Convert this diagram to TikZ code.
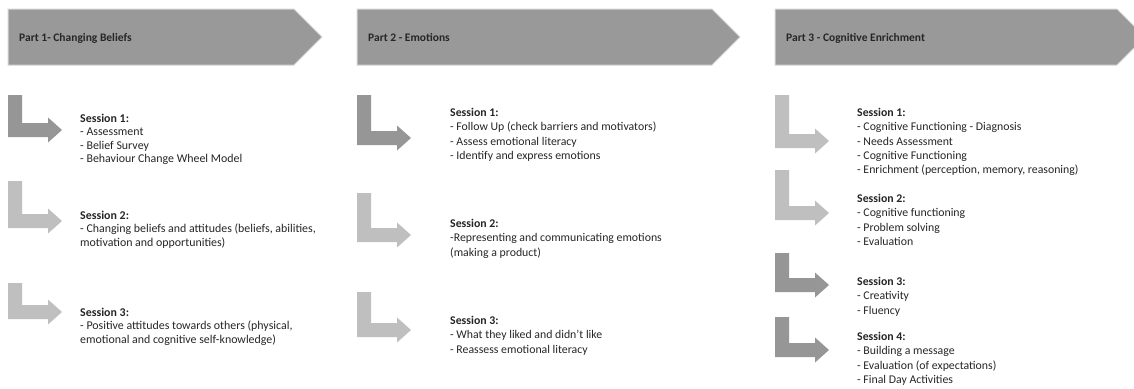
\documentclass[tikz,border=0pt]{standalone}
\usepackage{fontspec}
\setmainfont{Carlito}
\definecolor{bannergray}{HTML}{999999}
\definecolor{bannerline}{HTML}{D6D6D6}
\definecolor{darkarrow}{HTML}{969696}
\definecolor{lightarrow}{HTML}{BFBFBF}
\definecolor{inkgray}{HTML}{262626}
% bent (L-shaped) arrow: left x, top y, centre y of the horizontal bar, colour
\newcommand{\bentarrow}[4]{%
  \fill[#4] (#1,#2) -- ({#1+14},#2) -- ({#1+14},{#3-7}) -- ({#1+40},{#3-7})
    -- ({#1+40},{#3-12.5}) -- ({#1+54},#3) -- ({#1+40},{#3+12.5})
    -- ({#1+40},{#3+7}) -- (#1,{#3+7}) -- cycle;}
\newcommand{\hdstrut}{\rule{0pt}{9pt}}
\begin{document}
\begin{tikzpicture}[x=1pt,y=-1pt,
  banner/.style={fill=bannergray, draw=bannerline, line width=1pt},
  bannertext/.style={anchor=base west, inner sep=0pt,
    font=\fontsize{11.5}{14}\selectfont\bfseries, text=inkgray},
  session/.style={anchor=north west, inner sep=0pt, align=left,
    font=\fontsize{11.8}{14.4}\selectfont, text=inkgray},
  tightsession/.style={session, font=\fontsize{11.9}{13.4}\selectfont},
]
\clip (0,0) rectangle (1134,388);
\fill[white] (0,0) rectangle (1134,388);

% phase banners
\draw[banner] (8,9) -- (294,9) -- (322,37) -- (294,65) -- (8,65) -- cycle;
\draw[banner] (357,9) -- (712,9) -- (740,37) -- (712,65) -- (357,65) -- cycle;
\draw[banner] (775,9) -- (1117,9) -- (1145,37) -- (1117,65) -- (775,65) -- cycle;
\node[bannertext] (p1) at (19,41) {Part 1- Changing Beliefs};
\node[bannertext] (p2) at (368,41) {Part 2 - Emotions};
\node[bannertext] (p3) at (786,41) {Part 3 - Cognitive Enrichment};

% Part 1 sessions
\bentarrow{8}{95}{130}{darkarrow}
\bentarrow{8}{181}{221}{lightarrow}
\bentarrow{8}{283}{312}{lightarrow}
\node[tightsession] (a1) at (80,{122-9}) {\hdstrut\textbf{Session 1:}\\- Assessment\\- Belief Survey\\- Behaviour Change Wheel Model};
\node[tightsession] (a2) at (80,{219-9}) {\hdstrut\textbf{Session 2:}\\- Changing beliefs and attitudes (beliefs, abilities,\\motivation and opportunities)};
\node[tightsession] (a3) at (80,{316-9}) {\hdstrut\textbf{Session 3:}\\- Positive attitudes towards others (physical,\\emotional and cognitive self-knowledge)};

% Part 2 sessions
\bentarrow{357}{95}{138}{darkarrow}
\bentarrow{357}{193}{235}{lightarrow}
\bentarrow{357}{292}{330}{lightarrow}
\node[session] (b1) at (450,{116-9}) {\hdstrut\textbf{Session 1:}\\- Follow Up (check barriers and motivators)\\- Assess emotional literacy\\- Identify and express emotions};
\node[session] (b2) at (450,{227-9}) {\hdstrut\textbf{Session 2:}\\-Representing and communicating emotions\\(making a product)};
\node[session] (b3) at (450,{324-9}) {\hdstrut\textbf{Session 3:}\\- What they liked and didn't like\\- Reassess emotional literacy};

% Part 3 sessions
\bentarrow{775}{95}{141}{lightarrow}
\bentarrow{775}{170}{213}{lightarrow}
\bentarrow{775}{253}{285}{darkarrow}
\bentarrow{775}{317}{350}{darkarrow}
\node[session] (c1) at (857,{116-9}) {\hdstrut\textbf{Session 1:}\\- Cognitive Functioning - Diagnosis\\- Needs Assessment\\- Cognitive Functioning\\- Enrichment (perception, memory, reasoning)};
\node[session] (c2) at (857,{202-9}) {\hdstrut\textbf{Session 2:}\\- Cognitive functioning\\- Problem solving\\- Evaluation};
\node[session] (c3) at (857,{285-9}) {\hdstrut\textbf{Session 3:}\\- Creativity\\- Fluency};
\node[session] (c4) at (857,{340-9}) {\hdstrut\textbf{Session 4:}\\- Building a message\\- Evaluation (of expectations)\\- Final Day Activities};
\end{tikzpicture}
\end{document}
